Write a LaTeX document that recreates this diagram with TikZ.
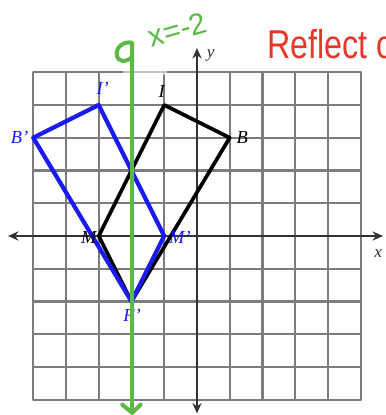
\documentclass[tikz,border=0pt]{standalone}
\usepackage{fontspec}
\setmainfont{Liberation Serif}
\newfontfamily\handfont{Liberation Sans}
\usetikzlibrary{arrows.meta}
\definecolor{gridgray}{HTML}{7C7C7C}
\definecolor{axisgray}{HTML}{333333}
\definecolor{penblue}{HTML}{1A1AF5}
\definecolor{pengreen}{HTML}{5DB946}
\definecolor{penred}{HTML}{E8362A}
\tikzset{
  gridline/.style={draw=gridgray, line width=1.8pt},
  axisline/.style={draw=axisgray, line width=1.7pt, {Stealth[length=3.2mm,width=2.8mm]}-{Stealth[length=3.2mm,width=2.8mm]}},
  orig/.style={draw=black, line width=3.2pt, line join=round},
  image/.style={draw=penblue, line width=3.7pt, line join=round},
  lblk/.style={font=\itshape\fontsize{16}{16}\selectfont, text=black, inner sep=0pt},
  lblu/.style={font=\itshape\fontsize{16}{16}\selectfont, text=penblue, inner sep=0pt},
  axlbl/.style={font=\itshape\fontsize{15}{15}\selectfont, text=axisgray, inner sep=0pt},
  greenpen/.style={draw=pengreen, line width=3.5pt, line cap=round, line join=round},
}
\begin{document}
\begin{tikzpicture}
\useasboundingbox[fill=white] (-6.015,-5.466) rectangle (5.771,7.206);
% grid
\draw[gridline, line cap=round] (-5,-5) grid (5,5);
\fill[white, opacity=0.55] (-2.25,4.92) rectangle (-0.92,5.1);
% axes
\coordinate (xl) at (-5.77,0);
\coordinate (xr) at (5.68,0);
\coordinate (yt) at (0,5.74);
\coordinate (yb) at (0,-5.42);
\draw[axisline] (xl) -- (xr);
\draw[axisline] (yb) -- (yt);
\node[axlbl] (xlab) at (5.53,-0.55) {x};
\node[axlbl] (ylab) at (0.42,5.5) {y};
% original figure
\coordinate (I) at (-1,4);
\coordinate (B) at (1,3);
\coordinate (F) at (-2,-2);
\coordinate (M) at (-3,0);
\draw[orig] (I) -- (B) -- (F) -- (M) -- cycle;
% image figure
\coordinate (I2) at (-3,4);
\coordinate (B2) at (-5,3);
\coordinate (F2) at (-2,-2);
\coordinate (M2) at (-1,0);
\draw[image] (I2) -- (B2) -- (F2) -- (M2) -- cycle;
% labels
\node[lblk] (Ilab) at (-1.08,4.42) {I};
\node[lblk] (Blab) at (1.38,3.0) {B};
\node[lblk] (Mlab) at (-3.3,-0.05) {M};
\node[lblu] (I2lab) at (-2.88,4.52) {I’};
\node[lblu] (B2lab) at (-5.42,3.02) {B’};
\node[lblu] (M2lab) at (-0.52,-0.03) {M’};
\node[lblu] (F2lab) at (-1.98,-2.42) {F’};
% reflection line x=-2
\coordinate (gtop) at (-1.98,5.9);
\coordinate (gbot) at (-1.98,-5.4);
\draw[greenpen] (gbot) -- (gtop)
  .. controls (-2.2,5.95) and (-2.47,5.8) .. (-2.45,5.55)
  .. controls (-2.43,5.3) and (-2.2,5.3) .. (-1.98,5.45);
\coordinate (va) at (-2.28,-5.15);
\coordinate (vb) at (-1.72,-5.15);
\draw[greenpen] (va) -- (gbot) -- (vb);
\node[text=pengreen, font=\handfont\fontsize{26}{26}\selectfont, rotate=16, inner sep=0pt] (eq) at (-0.6,6.3) {x=-2};
\node[text=penred, font=\handfont\fontsize{35}{35}\selectfont, xscale=0.8, anchor=base west, inner sep=0pt] (refl) at (2.15,5.42) {Reflect o};
\end{tikzpicture}
\end{document}
